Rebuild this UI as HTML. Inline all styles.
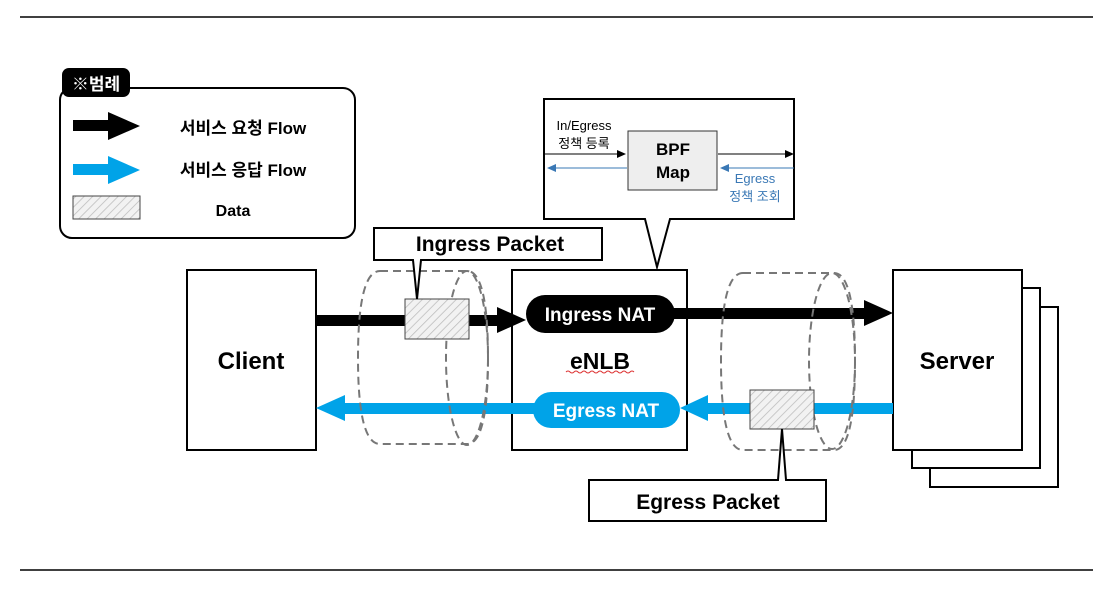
<!DOCTYPE html>
<html><head><meta charset="utf-8"><style>
body{margin:0;background:#fff}
svg text{font-family:"Liberation Sans","Noto Sans CJK KR",sans-serif}
</style></head><body>
<svg width="1116" height="596" viewBox="0 0 1116 596" xmlns="http://www.w3.org/2000/svg">
<defs>
<pattern id="h" width="6" height="6" patternUnits="userSpaceOnUse" patternTransform="rotate(45)">
<rect width="6" height="6" fill="#f2f2f2"/><line x1="0" y1="0" x2="0" y2="6" stroke="#bbb" stroke-width="1.5"/>
</pattern>
</defs>
<line x1="20" y1="17" x2="1093" y2="17" stroke="#000" stroke-width="1.5"/>
<line x1="20" y1="570" x2="1093" y2="570" stroke="#000" stroke-width="1.5"/>

<!-- legend -->
<rect x="60" y="88" width="295" height="150" rx="12" fill="#fff" stroke="#000" stroke-width="2"/>
<rect x="62" y="68" width="68" height="29" rx="7" fill="#000"/>
<text x="96" y="90" font-size="17" font-weight="bold" fill="#fff" text-anchor="middle">※범례</text>
<rect x="73" y="120" width="38" height="11" fill="#000"/><polygon points="108,112 140,126 108,140" fill="#000"/>
<rect x="73" y="164" width="38" height="11" fill="#00a3e8"/><polygon points="108,156 140,170 108,184" fill="#00a3e8"/>
<rect x="73" y="196" width="67" height="23" fill="url(#h)" stroke="#444"/>
<text x="243" y="134" font-size="17" font-weight="bold" text-anchor="middle">서비스 요청 Flow</text>
<text x="243" y="176" font-size="17" font-weight="bold" text-anchor="middle">서비스 응답 Flow</text>
<text x="233" y="216" font-size="16" font-weight="bold" text-anchor="middle">Data</text>

<!-- BPF callout -->
<polygon points="544,99 794,99 794,219 670,219 657,267 645,219 544,219" fill="#fff" stroke="#000" stroke-width="2"/>
<rect x="628" y="131" width="89" height="59" fill="#eee" stroke="#333"/>
<text x="673" y="155" font-size="17" font-weight="bold" text-anchor="middle">BPF</text>
<text x="673" y="178" font-size="17" font-weight="bold" text-anchor="middle">Map</text>
<line x1="545" y1="154" x2="618" y2="154" stroke="#000"/><polygon points="626,154 617,150 617,158"/>
<line x1="718" y1="154" x2="786" y2="154" stroke="#000"/><polygon points="794,154 785,150 785,158"/>
<line x1="556" y1="168" x2="627" y2="168" stroke="#3a78b5"/><polygon points="547,168 556,164 556,172" fill="#3a78b5"/>
<line x1="728" y1="168" x2="794" y2="168" stroke="#3a78b5"/><polygon points="720,168 729,164 729,172" fill="#3a78b5"/>
<text x="584" y="130" font-size="13" text-anchor="middle">In/Egress</text>
<text x="584" y="148" font-size="13" text-anchor="middle">정책 등록</text>
<text x="755" y="183" font-size="13" fill="#3a78b5" text-anchor="middle">Egress</text>
<text x="755" y="201" font-size="13" fill="#3a78b5" text-anchor="middle">정책 조회</text>

<!-- client -->
<rect x="187" y="270" width="129" height="180" fill="#fff" stroke="#000" stroke-width="2"/>
<text x="251" y="369" font-size="24" font-weight="bold" text-anchor="middle">Client</text>

<!-- servers -->
<rect x="930" y="307" width="128" height="180" fill="#fff" stroke="#000" stroke-width="2"/>
<rect x="912" y="288" width="128" height="180" fill="#fff" stroke="#000" stroke-width="2"/>
<rect x="893" y="270" width="129" height="180" fill="#fff" stroke="#000" stroke-width="2"/>
<text x="957" y="369" font-size="24" font-weight="bold" text-anchor="middle">Server</text>

<!-- eNLB -->
<rect x="512" y="270" width="175" height="180" fill="#fff" stroke="#000" stroke-width="2"/>
<text x="600" y="369" font-size="23" font-weight="bold" text-anchor="middle">eNLB</text>
<path d="M566 372 q2 -2 4 0 t4 0 t4 0 t4 0 t4 0 t4 0 t4 0 t4 0 t4 0 t4 0 t4 0 t4 0 t4 0 t4 0 t4 0 t4 0 t4 0" fill="none" stroke="#d33" stroke-width="1"/>

<!-- arrows -->
<rect x="316" y="315" width="185" height="11" fill="#000"/><polygon points="497,307 526,320 497,333"/>
<rect x="670" y="308" width="200" height="11" fill="#000"/><polygon points="864,300 893,313 864,326"/>
<rect x="342" y="403" width="200" height="11" fill="#00a3e8"/><polygon points="345,395 316,408 345,421" fill="#00a3e8"/>
<rect x="705" y="403" width="188" height="11" fill="#00a3e8"/><polygon points="708,395 680,408 708,421" fill="#00a3e8"/>

<!-- cylinders -->
<g fill="none" stroke="#777" stroke-width="2" stroke-dasharray="8,5">
<path d="M380 271 L467 271 Q488 271 488 358 Q488 444 467 444 L380 444 Q358 444 358 358 Q358 271 380 271 Z"/>
<ellipse cx="467" cy="358" rx="21" ry="87"/>
<path d="M743 273 L834 273 Q855 273 855 361 Q855 450 834 450 L743 450 Q721 450 721 361 Q721 273 743 273 Z"/>
<ellipse cx="832" cy="361" rx="23" ry="88"/>
</g>

<!-- pills -->
<rect x="526" y="295" width="149" height="38" rx="19" fill="#000"/>
<text x="600" y="321" font-size="19" font-weight="bold" fill="#fff" text-anchor="middle">Ingress NAT</text>
<rect x="533" y="392" width="147" height="36" rx="18" fill="#00a3e8"/>
<text x="606" y="417" font-size="19" font-weight="bold" fill="#fff" text-anchor="middle">Egress NAT</text>

<!-- data packets -->
<rect x="405" y="299" width="64" height="40" fill="url(#h)" stroke="#444"/>
<rect x="750" y="390" width="64" height="39" fill="url(#h)" stroke="#444"/>

<!-- ingress packet callout -->
<polygon points="374,228 602,228 602,260 421,260 417,299 413,260 374,260" fill="#fff" stroke="#000" stroke-width="2"/>
<text x="490" y="251" font-size="21" font-weight="bold" text-anchor="middle">Ingress Packet</text>
<!-- egress packet callout -->
<polygon points="589,480 778,480 782,429 786,480 826,480 826,521 589,521" fill="#fff" stroke="#000" stroke-width="2"/>
<text x="708" y="509" font-size="21" font-weight="bold" text-anchor="middle">Egress Packet</text>
</svg>
</body></html>
